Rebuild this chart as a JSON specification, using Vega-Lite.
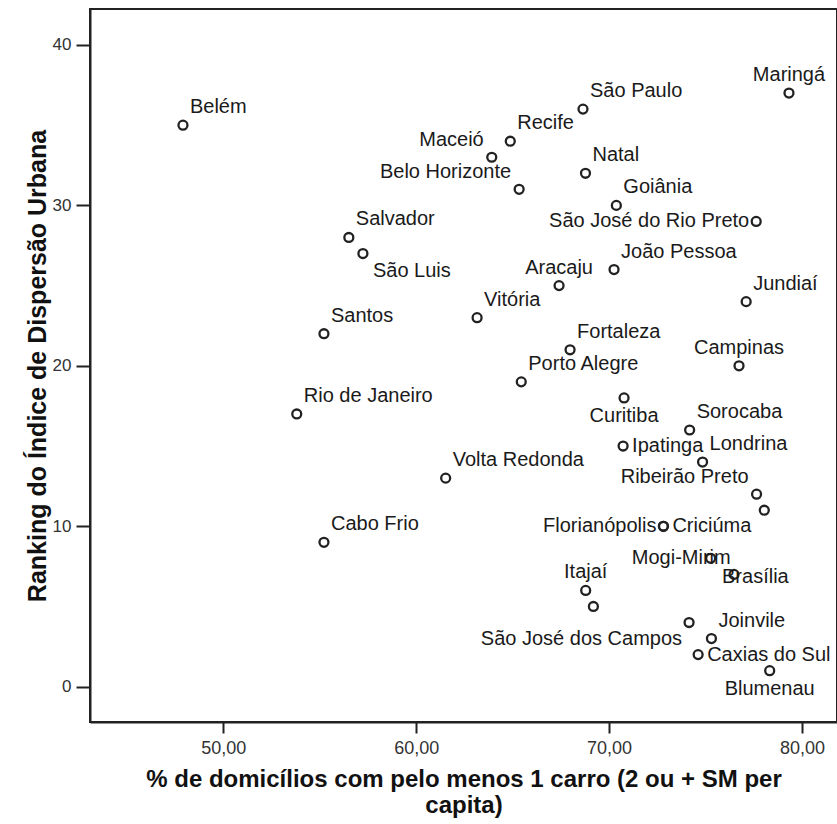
{
  "$schema": "https://vega.github.io/schema/vega-lite/v6.json",
  "width": 747,
  "height": 713,
  "autosize": {"type": "none"},
  "padding": {"left": 90, "top": 9, "right": 0, "bottom": 102},
  "background": "white",
  "config": {"view": {"stroke": "#222", "strokeWidth": 2}, "font": "Liberation Sans"},
  "data": {"values": [
    {"cidade": "Maringá", "carro": 79.33, "ranking": 37, "pos": "ac"},
    {"cidade": "São Paulo", "carro": 68.65, "ranking": 36, "pos": "ar"},
    {"cidade": "Belém", "carro": 47.91, "ranking": 35, "pos": "ar"},
    {"cidade": "Recife", "carro": 64.88, "ranking": 34, "pos": "ar"},
    {"cidade": "Maceió", "carro": 63.92, "ranking": 33, "pos": "al"},
    {"cidade": "Natal", "carro": 68.78, "ranking": 32, "pos": "ar"},
    {"cidade": "Belo Horizonte", "carro": 65.34, "ranking": 31, "pos": "al"},
    {"cidade": "Goiânia", "carro": 70.38, "ranking": 30, "pos": "ar"},
    {"cidade": "São José do Rio Preto", "carro": 77.63, "ranking": 29, "pos": "l"},
    {"cidade": "Salvador", "carro": 56.51, "ranking": 28, "pos": "ar"},
    {"cidade": "São Luis", "carro": 57.24, "ranking": 27, "pos": "br"},
    {"cidade": "João Pessoa", "carro": 70.26, "ranking": 26, "pos": "ar"},
    {"cidade": "Aracaju", "carro": 67.41, "ranking": 25, "pos": "ac"},
    {"cidade": "Jundiaí", "carro": 77.11, "ranking": 24, "pos": "ar"},
    {"cidade": "Vitória", "carro": 63.16, "ranking": 23, "pos": "ar"},
    {"cidade": "Santos", "carro": 55.22, "ranking": 22, "pos": "ar"},
    {"cidade": "Fortaleza", "carro": 67.98, "ranking": 21, "pos": "ar"},
    {"cidade": "Campinas", "carro": 76.74, "ranking": 20, "pos": "ac"},
    {"cidade": "Porto Alegre", "carro": 65.45, "ranking": 19, "pos": "ar"},
    {"cidade": "Curitiba", "carro": 70.78, "ranking": 18, "pos": "bc"},
    {"cidade": "Rio de Janeiro", "carro": 53.81, "ranking": 17, "pos": "ar"},
    {"cidade": "Sorocaba", "carro": 74.18, "ranking": 16, "pos": "ar"},
    {"cidade": "Ipatinga", "carro": 70.73, "ranking": 15, "pos": "r"},
    {"cidade": "Londrina", "carro": 74.85, "ranking": 14, "pos": "ar"},
    {"cidade": "Volta Redonda", "carro": 61.53, "ranking": 13, "pos": "ar"},
    {"cidade": "Ribeirão Preto", "carro": 77.65, "ranking": 12, "pos": "al"},
    {"cidade": "", "carro": 78.05, "ranking": 11, "pos": "none"},
    {"cidade": "Florianópolis", "carro": 72.82, "ranking": 10, "pos": "l"},
    {"cidade": "Criciúma", "carro": 72.82, "ranking": 10, "pos": "r"},
    {"cidade": "Cabo Frio", "carro": 55.22, "ranking": 9, "pos": "ar"},
    {"cidade": "Mogi-Mirim", "carro": 75.27, "ranking": 8, "pos": "lo"},
    {"cidade": "Brasília", "carro": 76.48, "ranking": 7, "pos": "ro"},
    {"cidade": "Itajaí", "carro": 68.79, "ranking": 6, "pos": "ac"},
    {"cidade": "", "carro": 69.19, "ranking": 5, "pos": "none"},
    {"cidade": "São José dos Campos", "carro": 74.15, "ranking": 4, "pos": "bl"},
    {"cidade": "Joinvile", "carro": 75.31, "ranking": 3, "pos": "ar"},
    {"cidade": "Caxias do Sul", "carro": 74.62, "ranking": 2, "pos": "r"},
    {"cidade": "Blumenau", "carro": 78.33, "ranking": 1, "pos": "bc"}
  ]},
  "encoding": {
    "x": {
      "field": "carro", "type": "quantitative",
      "scale": {"domain": [43.09, 81.82], "nice": false, "zero": false},
      "axis": {
        "values": [50, 60, 70, 80],
        "labelExpr": "replace(format(datum.value, '.2f'), '.', ',')",
        "grid": false, "domainColor": "#222", "domainWidth": 2,
        "tickColor": "#222", "tickWidth": 2, "tickSize": 11,
        "labelFontSize": 18, "labelColor": "#333", "labelPadding": 6,
        "title": ["% de domicílios com pelo menos 1 carro (2 ou + SM per", "capita)"],
        "titleFontSize": 24, "titleFontWeight": "bold", "titleColor": "#111",
        "titleLineHeight": 26, "titlePadding": 10
      }
    },
    "y": {
      "field": "ranking", "type": "quantitative",
      "scale": {"domain": [-2.2, 42.24], "nice": false, "zero": false},
      "axis": {
        "values": [0, 10, 20, 30, 40], "format": "d",
        "grid": false, "domainColor": "#222", "domainWidth": 2,
        "tickColor": "#222", "tickWidth": 2, "tickSize": 14,
        "labelFontSize": 17, "labelColor": "#333", "labelPadding": 5,
        "title": "Ranking do Índice de Dispersão Urbana",
        "titleFontSize": 25, "titleFontWeight": "bold", "titleColor": "#111",
        "titlePadding": 2
      }
    }
  },
  "layer": [
    {"mark": {"type": "point", "shape": "circle", "filled": false, "size": 80, "strokeWidth": 2.3, "color": "#222", "opacity": 1}},
    {"transform": [{"filter": "datum.pos === 'ar'"}], "mark": {"type": "text", "align": "left", "baseline": "middle", "dx": 7, "dy": -18, "fontSize": 20, "color": "#1a1a1a"}, "encoding": {"text": {"field": "cidade"}}},
    {"transform": [{"filter": "datum.pos === 'al'"}], "mark": {"type": "text", "align": "right", "baseline": "middle", "dx": -8, "dy": -17, "fontSize": 20, "color": "#1a1a1a"}, "encoding": {"text": {"field": "cidade"}}},
    {"transform": [{"filter": "datum.pos === 'ac'"}], "mark": {"type": "text", "align": "center", "baseline": "middle", "dx": 0, "dy": -18, "fontSize": 20, "color": "#1a1a1a"}, "encoding": {"text": {"field": "cidade"}}},
    {"transform": [{"filter": "datum.pos === 'bc'"}], "mark": {"type": "text", "align": "center", "baseline": "middle", "dx": 0, "dy": 18, "fontSize": 20, "color": "#1a1a1a"}, "encoding": {"text": {"field": "cidade"}}},
    {"transform": [{"filter": "datum.pos === 'br'"}], "mark": {"type": "text", "align": "left", "baseline": "middle", "dx": 10, "dy": 17, "fontSize": 20, "color": "#1a1a1a"}, "encoding": {"text": {"field": "cidade"}}},
    {"transform": [{"filter": "datum.pos === 'bl'"}], "mark": {"type": "text", "align": "right", "baseline": "middle", "dx": -7, "dy": 16, "fontSize": 20, "color": "#1a1a1a"}, "encoding": {"text": {"field": "cidade"}}},
    {"transform": [{"filter": "datum.pos === 'r'"}], "mark": {"type": "text", "align": "left", "baseline": "middle", "dx": 9, "dy": 0, "fontSize": 20, "color": "#1a1a1a"}, "encoding": {"text": {"field": "cidade"}}},
    {"transform": [{"filter": "datum.pos === 'l'"}], "mark": {"type": "text", "align": "right", "baseline": "middle", "dx": -7, "dy": 0, "fontSize": 20, "color": "#1a1a1a"}, "encoding": {"text": {"field": "cidade"}}},
    {"transform": [{"filter": "datum.pos === 'lo'"}], "mark": {"type": "text", "align": "right", "baseline": "middle", "dx": 20, "dy": 0, "fontSize": 20, "color": "#1a1a1a"}, "encoding": {"text": {"field": "cidade"}}},
    {"transform": [{"filter": "datum.pos === 'ro'"}], "mark": {"type": "text", "align": "left", "baseline": "middle", "dx": -12, "dy": 3, "fontSize": 20, "color": "#1a1a1a"}, "encoding": {"text": {"field": "cidade"}}}
  ]
}
